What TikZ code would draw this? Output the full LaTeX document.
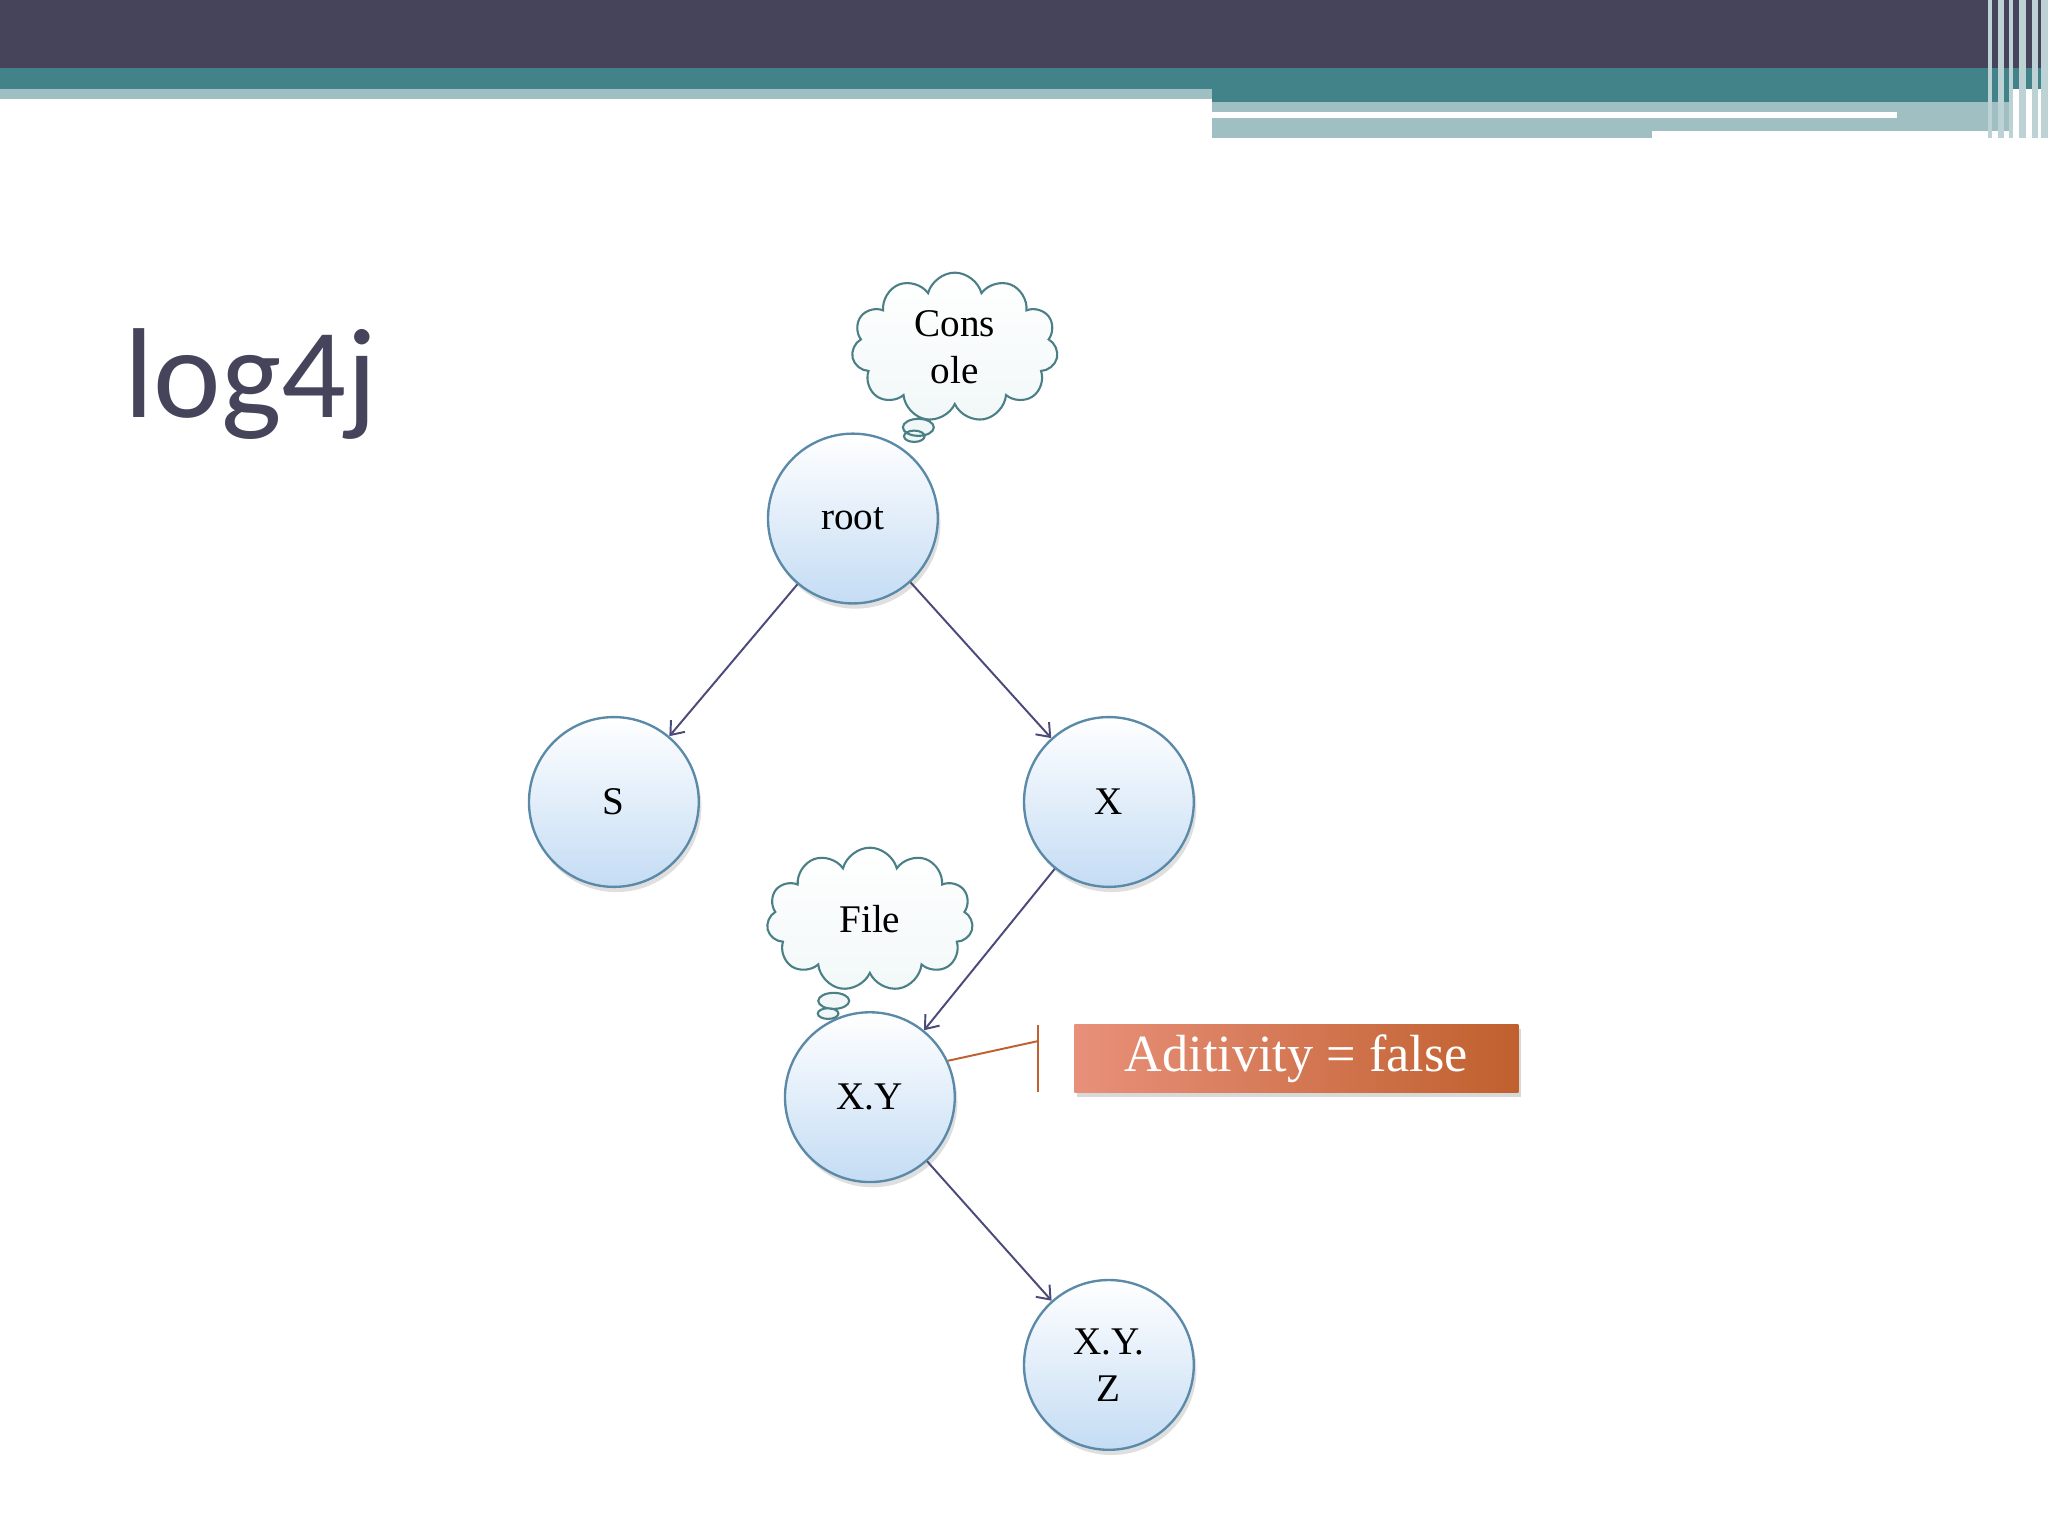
\documentclass[tikz,border=0pt]{standalone}
\usepackage{fontspec}
\setmainfont{Liberation Serif}
\newfontfamily\titlefont{Carlito}
\usetikzlibrary{shapes.symbols,shapes.callouts,shadows,arrows.meta}
\definecolor{dark}{HTML}{45445A}
\definecolor{teal}{HTML}{42838A}
\definecolor{lteal}{HTML}{9FBFC2}
\definecolor{cborder}{HTML}{5A8AA8}
\definecolor{arr}{HTML}{4B4A7A}
\definecolor{cloudb}{HTML}{4A7F86}
\definecolor{org}{HTML}{C0602E}
\definecolor{orgl}{HTML}{E8907A}
\definecolor{cbot}{HTML}{C4DCF4}
\begin{document}
\begin{tikzpicture}[x=1pt,y=-1pt,
  circ/.style={circle,minimum size=130pt,draw=cborder,line width=1.8pt,top color=white,bottom color=cbot,
    drop shadow={shadow xshift=2pt,shadow yshift=-4pt,opacity=0.25},font=\fontsize{30}{36}\selectfont,align=center},
  cld/.style={cloud callout,cloud puffs=11,aspect=1.4,inner sep=4pt,draw=cloudb,line width=1.6pt,top color=white,bottom color=cyan!12!teal!8!white,
    font=\fontsize{30}{36}\selectfont,align=center},
  conn/.style={draw=arr,line width=1.5pt,-{Straight Barb[length=9pt,width=14pt]}}]
\useasboundingbox (0,0) rectangle (1568,1176);
\fill[white] (0,0) rectangle (1568,1176);
% banner
\fill[dark] (0,0) rectangle (1568,52);
\fill[teal] (0,52) rectangle (1568,68);
\fill[lteal] (0,68) rectangle (928,76);
\fill[teal] (928,68) rectangle (1540,78);
\fill[lteal] (928,78) rectangle (1540,100);
\fill[lteal] (928,100) rectangle (1265,106);
\fill[white] (928,86) rectangle (1452,90);
\foreach \x/\w in {1522/3,1530/4,1538/3,1546/5,1556/4,1563/5}{\fill[lteal!70!white] (\x,0) rectangle (\x+\w,106);}
% title
\node[anchor=base west,text=dark,font=\titlefont\fontsize{98}{104}\selectfont,inner sep=0] (title) at (95,320) {log4j};
% circles
\node[circ] (root) at (653,397) {root};
\node[circ] (s) at (470,614) {S};
\node[circ] (x) at (849,614) {X};
\node[circ] (xy) at (666,840) {X.Y};
\node[circ] (xyz) at (849,1045) {X.Y.\\Z};
% clouds
\node[cld,minimum width=158pt,minimum height=112pt,callout absolute pointer={(700,334)}] (console) at (731,266) {Cons\\ole};
\node[cld,minimum width=158pt,minimum height=110pt,callout absolute pointer={(634,776)}] (file) at (666,704) {File};
% connectors
\draw[conn] (root) -- (s);
\draw[conn] (root) -- (x);
\draw[conn] (x) -- (xy);
\draw[conn] (xy) -- (xyz);
% annotation
\node[minimum width=340pt,minimum height=52pt,left color=orgl,right color=org,
  drop shadow={shadow xshift=2pt,shadow yshift=-3pt,opacity=0.3},text=white,font=\fontsize{40}{44}\selectfont] (note) at (992.5,810.5) {Aditivity = false};
\coordinate (bar) at (795,797);
\draw[org,line width=1.5pt] (xy.25) -- (bar);
\draw[org,line width=1.5pt] (795,785) -- (795,836);
\end{tikzpicture}
\end{document}
